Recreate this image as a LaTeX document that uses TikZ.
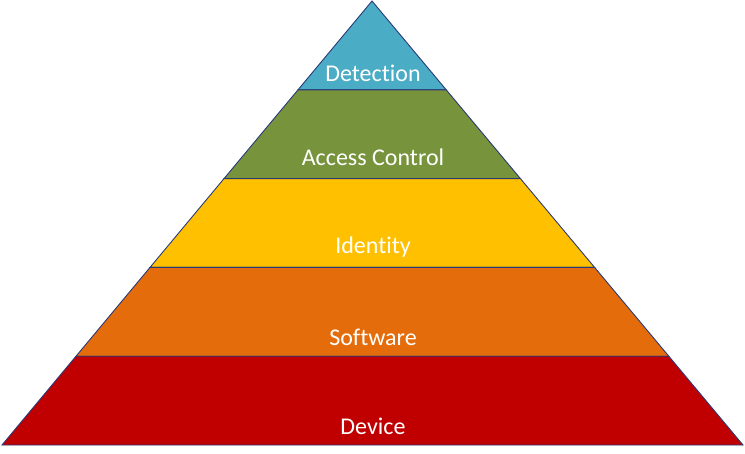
\documentclass[tikz,border=0pt]{standalone}
\usepackage{fontspec}
\setmainfont{Carlito}[Ligatures={NoCommon}]
\usepackage{tikz}
\usetikzlibrary{calc}
\usepackage{xcolor}
\definecolor{detblue}{HTML}{4BACC6}
\definecolor{accgreen}{HTML}{77933C}
\definecolor{idyellow}{HTML}{FFC000}
\definecolor{sworange}{HTML}{E46C0A}
\definecolor{devred}{HTML}{C00000}
\definecolor{edgeblue}{HTML}{283A78}

\begin{document}
\begin{tikzpicture}[
    x=1pt, y=-1pt,
    layer/.style={draw=edgeblue, line width=0.9pt, line join=miter},
    lbl/.style={text=white, font=\fontsize{24}{28}\selectfont, inner sep=0pt}
]
    \useasboundingbox (0,0) rectangle (745,453);

    \coordinate (apex) at (372,1);
    \coordinate (bl) at (2,445);
    \coordinate (br) at (743,445);
    \foreach \i/\f in {1/0.2, 2/0.4, 3/0.6, 4/0.8} {
        \coordinate (l\i) at ($(apex)!\f!(bl)$);
        \coordinate (r\i) at ($(apex)!\f!(br)$);
    }

    % layers, top to bottom
    \filldraw[layer, fill=detblue] (apex) -- (r1) -- (l1) -- cycle;
    \filldraw[layer, fill=accgreen] (l1) -- (r1) -- (r2) -- (l2) -- cycle;
    \filldraw[layer, fill=idyellow] (l2) -- (r2) -- (r3) -- (l3) -- cycle;
    \filldraw[layer, fill=sworange] (l3) -- (r3) -- (r4) -- (l4) -- cycle;
    \filldraw[layer, fill=devred] (l4) -- (r4) -- (br) -- (bl) -- cycle;

    \node[lbl] (detection) at (373,73) {Detection};
    \node[lbl] (access) at (373,157) {Access Control};
    \node[lbl] (identity) at (373,247) {Identity};
    \node[lbl] (software) at (373,337) {Software};
    \node[lbl] (device) at (373,426) {Device};
\end{tikzpicture}
\end{document}
